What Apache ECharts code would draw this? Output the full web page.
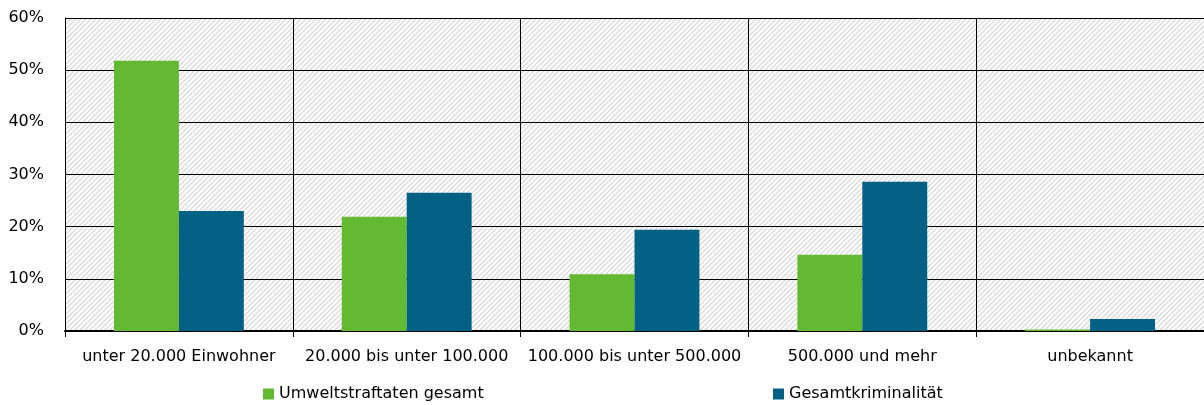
<!DOCTYPE html>
<html>
<head>
<meta charset="utf-8">
<script src="https://cdn.jsdelivr.net/npm/echarts@6/dist/echarts.min.js"></script>
<style>
  html, body { margin: 0; padding: 0; background: #fff; }
  #chart { width: 1204px; height: 405px; }
</style>
</head>
<body>
<div id="chart"></div>
<script>
// Gemeindegrößenklassen
const categories = ['unter 20.000 Einwohner', '20.000 bis unter 100.000', '100.000 bis unter 500.000', '500.000 und mehr', 'unbekannt'];
// Anteile in Prozent
const umweltstraftaten = [51.8, 21.9, 10.9, 14.6, 0.3];
const gesamtkriminalitaet = [23.0, 26.5, 19.4, 28.6, 2.3];
const seriesNames = ['Umweltstraftaten gesamt', 'Gesamtkriminalität'];

const FONT = 'DejaVu Sans';
const FS = 16;

// diagonal hatch for the plot background
function hatch() {
  const n = 5;
  const c = document.createElement('canvas');
  c.width = n; c.height = n;
  const g = c.getContext('2d');
  g.fillStyle = '#ffffff';
  g.fillRect(0, 0, n, n);
  g.strokeStyle = '#d3d3d3';
  g.lineWidth = 1.2;
  g.beginPath();
  g.moveTo(-1, n + 1); g.lineTo(n + 1, -1);
  g.moveTo(-1, 1); g.lineTo(1, -1);
  g.moveTo(n - 1, n + 1); g.lineTo(n + 1, n - 1);
  g.stroke();
  return { image: c, repeat: 'repeat' };
}

const legendText = { fontFamily: FONT, fontSize: FS, color: '#000' };

const chart = echarts.init(document.getElementById('chart'), null, { renderer: 'canvas' });
chart.setOption({
  animation: false,
  textStyle: { fontFamily: FONT },
  grid: {
    left: 65, right: 0, top: 18, bottom: 74,
    show: true, backgroundColor: hatch(), borderWidth: 0
  },
  legend: [
    {
      data: [seriesNames[0]], left: 263, top: 386, padding: 0,
      itemWidth: 11, itemHeight: 11, itemGap: 6, icon: 'rect',
      textStyle: legendText
    },
    {
      data: [seriesNames[1]], left: 773, top: 386, padding: 0,
      itemWidth: 11, itemHeight: 11, itemGap: 6, icon: 'rect',
      textStyle: legendText
    }
  ],
  xAxis: {
    type: 'category',
    data: categories,
    axisLine: { show: true, lineStyle: { color: '#000', width: 2 } },
    axisTick: { show: true, length: 6, lineStyle: { color: '#000' } },
    splitLine: { show: true, lineStyle: { color: '#000', width: 1 } },
    axisLabel: { interval: 0, color: '#000', fontSize: FS, margin: 18, fontFamily: FONT, hideOverlap: false }
  },
  yAxis: {
    type: 'value',
    min: 0, max: 60, interval: 10,
    axisLine: { show: true, lineStyle: { color: '#000', width: 1 } },
    axisTick: { show: false },
    splitLine: { show: true, lineStyle: { color: '#000', width: 1 } },
    axisLabel: { formatter: '{value}%', color: '#000', fontSize: FS, margin: 21, fontFamily: FONT }
  },
  series: [
    {
      name: seriesNames[0], type: 'bar', data: umweltstraftaten,
      itemStyle: { color: '#63b931' },
      barGap: '0%', barCategoryGap: '43%'
    },
    {
      name: seriesNames[1], type: 'bar', data: gesamtkriminalitaet,
      itemStyle: { color: '#036186' },
      barGap: '0%', barCategoryGap: '43%'
    }
  ]
});
</script>
</body>
</html>
